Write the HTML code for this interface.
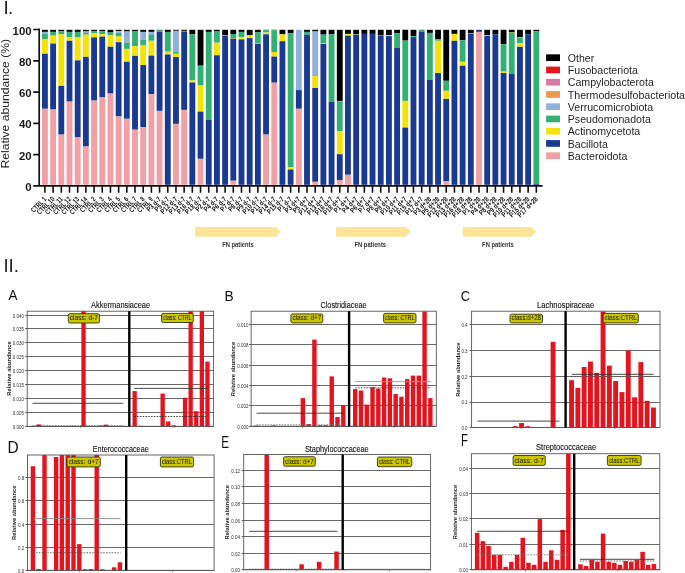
<!DOCTYPE html>
<html><head><meta charset="utf-8"><title>Figure</title>
<style>
html,body{margin:0;padding:0;background:#fff;}
body{width:685px;height:573px;overflow:hidden;}
svg{display:block;font-family:"Liberation Sans", sans-serif;will-change:transform;}
</style></head>
<body>
<svg width="685" height="573" viewBox="0 0 685 573">
<rect width="685" height="573" fill="#fff"/>
<text x="3.6" y="13.7" font-size="18.8" letter-spacing="-0.8" fill="#1a1a1a">I.</text>
<rect x="42" y="29.8" width="5.85" height="2.1" fill="#000000"/>
<rect x="42" y="31.9" width="5.85" height="2" fill="#8FB0DC"/>
<rect x="42" y="33.9" width="5.85" height="5.5" fill="#35B074"/>
<rect x="42" y="39.4" width="5.85" height="14.4" fill="#F2E205"/>
<rect x="42" y="53.8" width="5.85" height="55" fill="#1A3A92"/>
<rect x="42" y="108.8" width="5.85" height="76" fill="#F1A0A6"/>
<rect x="50.19" y="29.8" width="5.85" height="2.1" fill="#000000"/>
<rect x="50.19" y="31.9" width="5.85" height="3.8" fill="#35B074"/>
<rect x="50.19" y="35.7" width="5.85" height="7.9" fill="#F2E205"/>
<rect x="50.19" y="43.6" width="5.85" height="65.9" fill="#1A3A92"/>
<rect x="50.19" y="109.5" width="5.85" height="75.3" fill="#F1A0A6"/>
<rect x="58.38" y="29.8" width="5.85" height="1.3" fill="#000000"/>
<rect x="58.38" y="31.1" width="5.85" height="3.2" fill="#35B074"/>
<rect x="58.38" y="34.3" width="5.85" height="51.6" fill="#F2E205"/>
<rect x="58.38" y="85.9" width="5.85" height="48.7" fill="#1A3A92"/>
<rect x="58.38" y="134.6" width="5.85" height="50.2" fill="#F1A0A6"/>
<rect x="66.57" y="29.8" width="5.85" height="2.1" fill="#000000"/>
<rect x="66.57" y="31.9" width="5.85" height="5.2" fill="#35B074"/>
<rect x="66.57" y="37.1" width="5.85" height="3.7" fill="#F2E205"/>
<rect x="66.57" y="40.8" width="5.85" height="60.8" fill="#1A3A92"/>
<rect x="66.57" y="101.6" width="5.85" height="83.2" fill="#F1A0A6"/>
<rect x="74.76" y="29.8" width="5.85" height="2.1" fill="#000000"/>
<rect x="74.76" y="31.9" width="5.85" height="5.6" fill="#35B074"/>
<rect x="74.76" y="37.5" width="5.85" height="22.9" fill="#F2E205"/>
<rect x="74.76" y="60.4" width="5.85" height="76.6" fill="#1A3A92"/>
<rect x="74.76" y="137" width="5.85" height="47.8" fill="#F1A0A6"/>
<rect x="82.95" y="29.8" width="5.85" height="1.7" fill="#000000"/>
<rect x="82.95" y="31.5" width="5.85" height="1.4" fill="#8FB0DC"/>
<rect x="82.95" y="32.9" width="5.85" height="1.8" fill="#35B074"/>
<rect x="82.95" y="34.7" width="5.85" height="22.2" fill="#F2E205"/>
<rect x="82.95" y="56.9" width="5.85" height="89.6" fill="#1A3A92"/>
<rect x="82.95" y="146.5" width="5.85" height="38.3" fill="#F1A0A6"/>
<rect x="91.14" y="29.8" width="5.85" height="1.3" fill="#000000"/>
<rect x="91.14" y="31.1" width="5.85" height="2.2" fill="#35B074"/>
<rect x="91.14" y="33.3" width="5.85" height="4.1" fill="#F2E205"/>
<rect x="91.14" y="37.4" width="5.85" height="63.2" fill="#1A3A92"/>
<rect x="91.14" y="100.6" width="5.85" height="84.2" fill="#F1A0A6"/>
<rect x="99.33" y="29.8" width="5.85" height="1.3" fill="#000000"/>
<rect x="99.33" y="31.1" width="5.85" height="3.2" fill="#35B074"/>
<rect x="99.33" y="34.3" width="5.85" height="2.4" fill="#F2E205"/>
<rect x="99.33" y="36.7" width="5.85" height="60.7" fill="#1A3A92"/>
<rect x="99.33" y="97.4" width="5.85" height="87.4" fill="#F1A0A6"/>
<rect x="107.52" y="29.8" width="5.85" height="2.7" fill="#000000"/>
<rect x="107.52" y="32.5" width="5.85" height="2.8" fill="#35B074"/>
<rect x="107.52" y="35.3" width="5.85" height="11.5" fill="#F2E205"/>
<rect x="107.52" y="46.8" width="5.85" height="46.8" fill="#1A3A92"/>
<rect x="107.52" y="93.6" width="5.85" height="91.2" fill="#F1A0A6"/>
<rect x="115.71" y="29.8" width="5.85" height="1.3" fill="#000000"/>
<rect x="115.71" y="31.1" width="5.85" height="1.8" fill="#8FB0DC"/>
<rect x="115.71" y="32.9" width="5.85" height="3.5" fill="#35B074"/>
<rect x="115.71" y="36.4" width="5.85" height="5.8" fill="#F2E205"/>
<rect x="115.71" y="42.2" width="5.85" height="74.3" fill="#1A3A92"/>
<rect x="115.71" y="116.5" width="5.85" height="68.3" fill="#F1A0A6"/>
<rect x="123.9" y="29.8" width="5.85" height="1.7" fill="#000000"/>
<rect x="123.9" y="31.5" width="5.85" height="11.2" fill="#8FB0DC"/>
<rect x="123.9" y="42.7" width="5.85" height="6.2" fill="#35B074"/>
<rect x="123.9" y="48.9" width="5.85" height="12.9" fill="#F2E205"/>
<rect x="123.9" y="61.8" width="5.85" height="57" fill="#1A3A92"/>
<rect x="123.9" y="118.8" width="5.85" height="66" fill="#F1A0A6"/>
<rect x="132.09" y="29.8" width="5.85" height="1.7" fill="#000000"/>
<rect x="132.09" y="31.5" width="5.85" height="14.7" fill="#35B074"/>
<rect x="132.09" y="46.2" width="5.85" height="9.7" fill="#F2E205"/>
<rect x="132.09" y="55.9" width="5.85" height="73.8" fill="#1A3A92"/>
<rect x="132.09" y="129.7" width="5.85" height="55.1" fill="#F1A0A6"/>
<rect x="140.28" y="29.8" width="5.85" height="2.1" fill="#000000"/>
<rect x="140.28" y="31.9" width="5.85" height="8" fill="#8FB0DC"/>
<rect x="140.28" y="39.9" width="5.85" height="5.6" fill="#35B074"/>
<rect x="140.28" y="45.5" width="5.85" height="19.5" fill="#F2E205"/>
<rect x="140.28" y="65" width="5.85" height="62.2" fill="#1A3A92"/>
<rect x="140.28" y="127.2" width="5.85" height="57.6" fill="#F1A0A6"/>
<rect x="148.47" y="29.8" width="5.85" height="2.1" fill="#000000"/>
<rect x="148.47" y="31.9" width="5.85" height="3.1" fill="#8FB0DC"/>
<rect x="148.47" y="35" width="5.85" height="5.8" fill="#35B074"/>
<rect x="148.47" y="40.8" width="5.85" height="14.8" fill="#F2E205"/>
<rect x="148.47" y="55.6" width="5.85" height="38.7" fill="#1A3A92"/>
<rect x="148.47" y="94.3" width="5.85" height="90.5" fill="#F1A0A6"/>
<rect x="156.66" y="29.8" width="5.85" height="0.7" fill="#000000"/>
<rect x="156.66" y="30.5" width="5.85" height="1.4" fill="#35B074"/>
<rect x="156.66" y="31.9" width="5.85" height="79" fill="#1A3A92"/>
<rect x="156.66" y="110.9" width="5.85" height="73.9" fill="#F1A0A6"/>
<rect x="164.85" y="29.8" width="5.85" height="2.1" fill="#000000"/>
<rect x="164.85" y="31.9" width="5.85" height="19.8" fill="#35B074"/>
<rect x="164.85" y="51.7" width="5.85" height="2.8" fill="#F2E205"/>
<rect x="164.85" y="54.5" width="5.85" height="130.3" fill="#1A3A92"/>
<rect x="173.04" y="29.8" width="5.85" height="1" fill="#000000"/>
<rect x="173.04" y="30.8" width="5.85" height="20.9" fill="#8FB0DC"/>
<rect x="173.04" y="51.7" width="5.85" height="2.1" fill="#35B074"/>
<rect x="173.04" y="53.8" width="5.85" height="3.2" fill="#F2E205"/>
<rect x="173.04" y="57" width="5.85" height="66.9" fill="#1A3A92"/>
<rect x="173.04" y="123.9" width="5.85" height="60.9" fill="#F1A0A6"/>
<rect x="181.23" y="29.8" width="5.85" height="1.1" fill="#000000"/>
<rect x="181.23" y="30.9" width="5.85" height="0.5" fill="#F2E205"/>
<rect x="181.23" y="31.4" width="5.85" height="78.5" fill="#1A3A92"/>
<rect x="181.23" y="109.9" width="5.85" height="74.9" fill="#F1A0A6"/>
<rect x="189.42" y="29.8" width="5.85" height="4.5" fill="#000000"/>
<rect x="189.42" y="34.3" width="5.85" height="46.1" fill="#35B074"/>
<rect x="189.42" y="80.4" width="5.85" height="2.1" fill="#F2E205"/>
<rect x="189.42" y="82.5" width="5.85" height="102.3" fill="#1A3A92"/>
<rect x="197.61" y="29.8" width="5.85" height="35.8" fill="#000000"/>
<rect x="197.61" y="65.6" width="5.85" height="0.5" fill="#E3171E"/>
<rect x="197.61" y="66.1" width="5.85" height="19.4" fill="#35B074"/>
<rect x="197.61" y="85.5" width="5.85" height="26.1" fill="#F2E205"/>
<rect x="197.61" y="111.6" width="5.85" height="47.2" fill="#1A3A92"/>
<rect x="197.61" y="158.8" width="5.85" height="26" fill="#F1A0A6"/>
<rect x="205.8" y="29.8" width="5.85" height="2.1" fill="#000000"/>
<rect x="205.8" y="31.9" width="5.85" height="88.1" fill="#35B074"/>
<rect x="205.8" y="120" width="5.85" height="64.8" fill="#1A3A92"/>
<rect x="213.99" y="29.8" width="5.85" height="1.7" fill="#000000"/>
<rect x="213.99" y="31.5" width="5.85" height="11.2" fill="#35B074"/>
<rect x="213.99" y="42.7" width="5.85" height="12.5" fill="#F2E205"/>
<rect x="213.99" y="55.2" width="5.85" height="129.6" fill="#1A3A92"/>
<rect x="222.18" y="29.8" width="5.85" height="5.5" fill="#000000"/>
<rect x="222.18" y="35.3" width="5.85" height="0.4" fill="#F2E205"/>
<rect x="222.18" y="35.7" width="5.85" height="149.1" fill="#1A3A92"/>
<rect x="230.37" y="29.8" width="5.85" height="4.2" fill="#000000"/>
<rect x="230.37" y="34" width="5.85" height="4.4" fill="#35B074"/>
<rect x="230.37" y="38.4" width="5.85" height="0.3" fill="#F2E205"/>
<rect x="230.37" y="38.7" width="5.85" height="142" fill="#1A3A92"/>
<rect x="230.37" y="180.7" width="5.85" height="4.1" fill="#F1A0A6"/>
<rect x="238.56" y="29.8" width="5.85" height="2.1" fill="#000000"/>
<rect x="238.56" y="31.9" width="5.85" height="5.2" fill="#35B074"/>
<rect x="238.56" y="37.1" width="5.85" height="2.3" fill="#F2E205"/>
<rect x="238.56" y="39.4" width="5.85" height="145.4" fill="#1A3A92"/>
<rect x="246.75" y="29.8" width="5.85" height="5.5" fill="#000000"/>
<rect x="246.75" y="35.3" width="5.85" height="2.8" fill="#F2E205"/>
<rect x="246.75" y="38.1" width="5.85" height="146.7" fill="#1A3A92"/>
<rect x="254.94" y="29.8" width="5.85" height="2.4" fill="#000000"/>
<rect x="254.94" y="32.2" width="5.85" height="11.5" fill="#35B074"/>
<rect x="254.94" y="43.7" width="5.85" height="0.3" fill="#F2E205"/>
<rect x="254.94" y="44" width="5.85" height="140.8" fill="#1A3A92"/>
<rect x="263.13" y="29.8" width="5.85" height="0.3" fill="#000000"/>
<rect x="263.13" y="30.1" width="5.85" height="2.4" fill="#35B074"/>
<rect x="263.13" y="32.5" width="5.85" height="1.8" fill="#F2E205"/>
<rect x="263.13" y="34.3" width="5.85" height="100.3" fill="#1A3A92"/>
<rect x="263.13" y="134.6" width="5.85" height="50.2" fill="#F1A0A6"/>
<rect x="271.32" y="29.8" width="5.85" height="0.3" fill="#000000"/>
<rect x="271.32" y="30.1" width="5.85" height="21.9" fill="#35B074"/>
<rect x="271.32" y="52" width="5.85" height="4.6" fill="#F2E205"/>
<rect x="271.32" y="56.6" width="5.85" height="26.1" fill="#1A3A92"/>
<rect x="271.32" y="82.7" width="5.85" height="102.1" fill="#F1A0A6"/>
<rect x="279.51" y="29.8" width="5.85" height="4.5" fill="#000000"/>
<rect x="279.51" y="34.3" width="5.85" height="6.9" fill="#F2E205"/>
<rect x="279.51" y="41.2" width="5.85" height="143.6" fill="#1A3A92"/>
<rect x="287.7" y="29.8" width="5.85" height="3.5" fill="#000000"/>
<rect x="287.7" y="33.3" width="5.85" height="133.7" fill="#35B074"/>
<rect x="287.7" y="167" width="5.85" height="2.5" fill="#F2E205"/>
<rect x="287.7" y="169.5" width="5.85" height="15.3" fill="#1A3A92"/>
<rect x="295.89" y="29.8" width="5.85" height="59.6" fill="#8FB0DC"/>
<rect x="295.89" y="89.4" width="5.85" height="0.7" fill="#35B074"/>
<rect x="295.89" y="90.1" width="5.85" height="18.7" fill="#1A3A92"/>
<rect x="295.89" y="108.8" width="5.85" height="76" fill="#F1A0A6"/>
<rect x="304.08" y="29.8" width="5.85" height="2.1" fill="#000000"/>
<rect x="304.08" y="31.9" width="5.85" height="2.8" fill="#35B074"/>
<rect x="304.08" y="34.7" width="5.85" height="150.1" fill="#1A3A92"/>
<rect x="312.27" y="29.8" width="5.85" height="1.7" fill="#000000"/>
<rect x="312.27" y="31.5" width="5.85" height="44" fill="#8FB0DC"/>
<rect x="312.27" y="75.5" width="5.85" height="0.7" fill="#35B074"/>
<rect x="312.27" y="76.2" width="5.85" height="11.8" fill="#F2E205"/>
<rect x="312.27" y="88" width="5.85" height="93.8" fill="#1A3A92"/>
<rect x="312.27" y="181.8" width="5.85" height="3" fill="#F1A0A6"/>
<rect x="320.46" y="29.8" width="5.85" height="4.8" fill="#000000"/>
<rect x="320.46" y="34.6" width="5.85" height="9" fill="#35B074"/>
<rect x="320.46" y="43.6" width="5.85" height="0.4" fill="#F2E205"/>
<rect x="320.46" y="44" width="5.85" height="140.8" fill="#1A3A92"/>
<rect x="328.65" y="29.8" width="5.85" height="4.5" fill="#000000"/>
<rect x="328.65" y="34.3" width="5.85" height="67.7" fill="#35B074"/>
<rect x="328.65" y="102" width="5.85" height="82.8" fill="#1A3A92"/>
<rect x="336.84" y="29.8" width="5.85" height="71.1" fill="#000000"/>
<rect x="336.84" y="100.9" width="5.85" height="0.5" fill="#E3171E"/>
<rect x="336.84" y="101.4" width="5.85" height="29.7" fill="#35B074"/>
<rect x="336.84" y="131.1" width="5.85" height="23.1" fill="#F2E205"/>
<rect x="336.84" y="154.2" width="5.85" height="25.8" fill="#1A3A92"/>
<rect x="336.84" y="180" width="5.85" height="4.8" fill="#F1A0A6"/>
<rect x="345.03" y="29.8" width="5.85" height="4.1" fill="#000000"/>
<rect x="345.03" y="33.9" width="5.85" height="1.8" fill="#F2E205"/>
<rect x="345.03" y="35.7" width="5.85" height="139.1" fill="#1A3A92"/>
<rect x="345.03" y="174.8" width="5.85" height="10" fill="#F1A0A6"/>
<rect x="353.22" y="29.8" width="5.85" height="4.5" fill="#000000"/>
<rect x="353.22" y="34.3" width="5.85" height="0.4" fill="#F2E205"/>
<rect x="353.22" y="34.7" width="5.85" height="150.1" fill="#1A3A92"/>
<rect x="361.41" y="29.8" width="5.85" height="4.1" fill="#000000"/>
<rect x="361.41" y="33.9" width="5.85" height="150.9" fill="#1A3A92"/>
<rect x="369.6" y="29.8" width="5.85" height="4.1" fill="#000000"/>
<rect x="369.6" y="33.9" width="5.85" height="150.9" fill="#1A3A92"/>
<rect x="377.79" y="29.8" width="5.85" height="5.2" fill="#000000"/>
<rect x="377.79" y="35" width="5.85" height="0.3" fill="#F2E205"/>
<rect x="377.79" y="35.3" width="5.85" height="149.5" fill="#1A3A92"/>
<rect x="385.98" y="29.8" width="5.85" height="5.2" fill="#000000"/>
<rect x="385.98" y="35" width="5.85" height="1.1" fill="#F2E205"/>
<rect x="385.98" y="36.1" width="5.85" height="148.7" fill="#1A3A92"/>
<rect x="394.17" y="29.8" width="5.85" height="3.5" fill="#000000"/>
<rect x="394.17" y="33.3" width="5.85" height="14.5" fill="#35B074"/>
<rect x="394.17" y="47.8" width="5.85" height="137" fill="#1A3A92"/>
<rect x="402.36" y="29.8" width="5.85" height="10.8" fill="#000000"/>
<rect x="402.36" y="40.6" width="5.85" height="60.3" fill="#35B074"/>
<rect x="402.36" y="100.9" width="5.85" height="26.7" fill="#F2E205"/>
<rect x="402.36" y="127.6" width="5.85" height="57.2" fill="#1A3A92"/>
<rect x="410.55" y="29.8" width="5.85" height="6.3" fill="#000000"/>
<rect x="410.55" y="36.1" width="5.85" height="1" fill="#35B074"/>
<rect x="410.55" y="37.1" width="5.85" height="147.7" fill="#1A3A92"/>
<rect x="418.74" y="29.8" width="5.85" height="0.3" fill="#000000"/>
<rect x="418.74" y="30.1" width="5.85" height="1.4" fill="#35B074"/>
<rect x="418.74" y="31.5" width="5.85" height="153.3" fill="#1A3A92"/>
<rect x="426.93" y="29.8" width="5.85" height="3.1" fill="#000000"/>
<rect x="426.93" y="32.9" width="5.85" height="46.8" fill="#35B074"/>
<rect x="426.93" y="79.7" width="5.85" height="105.1" fill="#1A3A92"/>
<rect x="435.12" y="29.8" width="5.85" height="9.4" fill="#000000"/>
<rect x="435.12" y="39.2" width="5.85" height="1.6" fill="#35B074"/>
<rect x="435.12" y="40.8" width="5.85" height="32.2" fill="#F2E205"/>
<rect x="435.12" y="73" width="5.85" height="111.8" fill="#1A3A92"/>
<rect x="443.31" y="29.8" width="5.85" height="51" fill="#000000"/>
<rect x="443.31" y="80.8" width="5.85" height="10" fill="#35B074"/>
<rect x="443.31" y="90.8" width="5.85" height="8.1" fill="#F2E205"/>
<rect x="443.31" y="98.9" width="5.85" height="82.1" fill="#1A3A92"/>
<rect x="443.31" y="181" width="5.85" height="3.8" fill="#F1A0A6"/>
<rect x="451.5" y="29.8" width="5.85" height="4.1" fill="#000000"/>
<rect x="451.5" y="33.9" width="5.85" height="6.9" fill="#F2E205"/>
<rect x="451.5" y="40.8" width="5.85" height="144" fill="#1A3A92"/>
<rect x="459.69" y="29.8" width="5.85" height="10.5" fill="#000000"/>
<rect x="459.69" y="40.3" width="5.85" height="21.5" fill="#35B074"/>
<rect x="459.69" y="61.8" width="5.85" height="3.9" fill="#F2E205"/>
<rect x="459.69" y="65.7" width="5.85" height="119.1" fill="#1A3A92"/>
<rect x="467.88" y="29.8" width="5.85" height="3.2" fill="#000000"/>
<rect x="467.88" y="33" width="5.85" height="0.5" fill="#F2E205"/>
<rect x="467.88" y="33.5" width="5.85" height="151.3" fill="#1A3A92"/>
<rect x="476.07" y="29.8" width="5.85" height="2.1" fill="#1A3A92"/>
<rect x="476.07" y="31.9" width="5.85" height="152.9" fill="#F1A0A6"/>
<rect x="484.26" y="29.8" width="5.85" height="5.6" fill="#000000"/>
<rect x="484.26" y="35.4" width="5.85" height="0.6" fill="#F2E205"/>
<rect x="484.26" y="36" width="5.85" height="148.8" fill="#1A3A92"/>
<rect x="492.45" y="29.8" width="5.85" height="4.6" fill="#000000"/>
<rect x="492.45" y="34.4" width="5.85" height="150.4" fill="#1A3A92"/>
<rect x="500.64" y="29.8" width="5.85" height="14.3" fill="#000000"/>
<rect x="500.64" y="44.1" width="5.85" height="27.5" fill="#35B074"/>
<rect x="500.64" y="71.6" width="5.85" height="1.4" fill="#F2E205"/>
<rect x="500.64" y="73" width="5.85" height="111.8" fill="#1A3A92"/>
<rect x="508.83" y="29.8" width="5.85" height="2.6" fill="#000000"/>
<rect x="508.83" y="32.4" width="5.85" height="0.3" fill="#F2E205"/>
<rect x="508.83" y="32.7" width="5.85" height="41.1" fill="#35B074"/>
<rect x="508.83" y="73.8" width="5.85" height="111" fill="#1A3A92"/>
<rect x="517.02" y="29.8" width="5.85" height="7.3" fill="#000000"/>
<rect x="517.02" y="37.1" width="5.85" height="0.7" fill="#F0954A"/>
<rect x="517.02" y="37.8" width="5.85" height="5.3" fill="#35B074"/>
<rect x="517.02" y="43.1" width="5.85" height="3.7" fill="#F2E205"/>
<rect x="517.02" y="46.8" width="5.85" height="138" fill="#1A3A92"/>
<rect x="525.21" y="29.8" width="5.85" height="4.4" fill="#000000"/>
<rect x="525.21" y="34.2" width="5.85" height="150.6" fill="#1A3A92"/>
<rect x="533.4" y="29.8" width="5.85" height="1.3" fill="#000000"/>
<rect x="533.4" y="31.1" width="5.85" height="152.9" fill="#35B074"/>
<rect x="533.4" y="184" width="5.85" height="0.8" fill="#1A3A92"/>
<path d="M39.2 28.6 V186.6 M33.2 29.5 H39.2 M33.2 60.78 H39.2 M33.2 92.06 H39.2 M33.2 123.34 H39.2 M33.2 154.62 H39.2 M33.2 185.9 H39.2 M38.4 185.9 H542.6" stroke="#111" stroke-width="1.7" fill="none"/>
<path d="M44.92 185.9 V192.7 M53.11 185.9 V192.7 M61.3 185.9 V192.7 M69.5 185.9 V192.7 M77.69 185.9 V192.7 M85.88 185.9 V192.7 M94.06 185.9 V192.7 M102.25 185.9 V192.7 M110.44 185.9 V192.7 M118.63 185.9 V192.7 M126.82 185.9 V192.7 M135.01 185.9 V192.7 M143.2 185.9 V192.7 M151.39 185.9 V192.7 M159.58 185.9 V192.7 M167.77 185.9 V192.7 M175.96 185.9 V192.7 M184.15 185.9 V192.7 M192.34 185.9 V192.7 M200.53 185.9 V192.7 M208.72 185.9 V192.7 M216.91 185.9 V192.7 M225.1 185.9 V192.7 M233.29 185.9 V192.7 M241.49 185.9 V192.7 M249.68 185.9 V192.7 M257.87 185.9 V192.7 M266.06 185.9 V192.7 M274.25 185.9 V192.7 M282.44 185.9 V192.7 M290.62 185.9 V192.7 M298.81 185.9 V192.7 M307 185.9 V192.7 M315.19 185.9 V192.7 M323.38 185.9 V192.7 M331.57 185.9 V192.7 M339.76 185.9 V192.7 M347.95 185.9 V192.7 M356.14 185.9 V192.7 M364.33 185.9 V192.7 M372.52 185.9 V192.7 M380.71 185.9 V192.7 M388.9 185.9 V192.7 M397.09 185.9 V192.7 M405.28 185.9 V192.7 M413.47 185.9 V192.7 M421.66 185.9 V192.7 M429.85 185.9 V192.7 M438.05 185.9 V192.7 M446.24 185.9 V192.7 M454.43 185.9 V192.7 M462.62 185.9 V192.7 M470.81 185.9 V192.7 M479 185.9 V192.7 M487.19 185.9 V192.7 M495.38 185.9 V192.7 M503.56 185.9 V192.7 M511.75 185.9 V192.7 M519.94 185.9 V192.7 M528.13 185.9 V192.7 M536.32 185.9 V192.7" stroke="#111" stroke-width="1.6" fill="none"/>
<text x="31.6" y="34.5" font-size="11.4" font-weight="bold" text-anchor="end" fill="#1a1a1a">100</text>
<text x="31.6" y="65.78" font-size="11.4" font-weight="bold" text-anchor="end" fill="#1a1a1a">80</text>
<text x="31.6" y="97.06" font-size="11.4" font-weight="bold" text-anchor="end" fill="#1a1a1a">60</text>
<text x="31.6" y="128.34" font-size="11.4" font-weight="bold" text-anchor="end" fill="#1a1a1a">40</text>
<text x="31.6" y="159.62" font-size="11.4" font-weight="bold" text-anchor="end" fill="#1a1a1a">20</text>
<text x="31.6" y="190.9" font-size="11.4" font-weight="bold" text-anchor="end" fill="#1a1a1a">0</text>
<text transform="translate(9.1 103.7) rotate(-90)" font-size="11.4" text-anchor="middle" fill="#222" textLength="129.6" lengthAdjust="spacingAndGlyphs">Relative abundance (%)</text>
<text transform="translate(46.92 199.7) rotate(-45) scale(0.74 1)" font-size="7.3" font-weight="bold" text-anchor="end" fill="#111">CTRL 1</text>
<text transform="translate(55.11 199.7) rotate(-45) scale(0.74 1)" font-size="7.3" font-weight="bold" text-anchor="end" fill="#111">CTRL 10</text>
<text transform="translate(63.3 199.7) rotate(-45) scale(0.74 1)" font-size="7.3" font-weight="bold" text-anchor="end" fill="#111">CTRL 11</text>
<text transform="translate(71.5 199.7) rotate(-45) scale(0.74 1)" font-size="7.3" font-weight="bold" text-anchor="end" fill="#111">CTRL 12</text>
<text transform="translate(79.69 199.7) rotate(-45) scale(0.74 1)" font-size="7.3" font-weight="bold" text-anchor="end" fill="#111">CTRL 13</text>
<text transform="translate(87.88 199.7) rotate(-45) scale(0.74 1)" font-size="7.3" font-weight="bold" text-anchor="end" fill="#111">CTRL 14</text>
<text transform="translate(96.06 199.7) rotate(-45) scale(0.74 1)" font-size="7.3" font-weight="bold" text-anchor="end" fill="#111">CTRL 2</text>
<text transform="translate(104.25 199.7) rotate(-45) scale(0.74 1)" font-size="7.3" font-weight="bold" text-anchor="end" fill="#111">CTRL 3</text>
<text transform="translate(112.44 199.7) rotate(-45) scale(0.74 1)" font-size="7.3" font-weight="bold" text-anchor="end" fill="#111">CTRL 4</text>
<text transform="translate(120.63 199.7) rotate(-45) scale(0.74 1)" font-size="7.3" font-weight="bold" text-anchor="end" fill="#111">CTRL 5</text>
<text transform="translate(128.82 199.7) rotate(-45) scale(0.74 1)" font-size="7.3" font-weight="bold" text-anchor="end" fill="#111">CTRL 6</text>
<text transform="translate(137.01 199.7) rotate(-45) scale(0.74 1)" font-size="7.3" font-weight="bold" text-anchor="end" fill="#111">CTRL 7</text>
<text transform="translate(145.2 199.7) rotate(-45) scale(0.74 1)" font-size="7.3" font-weight="bold" text-anchor="end" fill="#111">CTRL 8</text>
<text transform="translate(153.39 199.7) rotate(-45) scale(0.74 1)" font-size="7.3" font-weight="bold" text-anchor="end" fill="#111">CTRL 9</text>
<text transform="translate(161.58 199.7) rotate(-45) scale(0.8 1)" font-size="7.3" font-weight="bold" text-anchor="end" fill="#111">P3 d-7</text>
<text transform="translate(169.77 199.7) rotate(-45) scale(0.8 1)" font-size="7.3" font-weight="bold" text-anchor="end" fill="#111">P5 d-7</text>
<text transform="translate(177.96 199.7) rotate(-45) scale(0.8 1)" font-size="7.3" font-weight="bold" text-anchor="end" fill="#111">P12 d-7</text>
<text transform="translate(186.15 199.7) rotate(-45) scale(0.8 1)" font-size="7.3" font-weight="bold" text-anchor="end" fill="#111">P13 d-7</text>
<text transform="translate(194.34 199.7) rotate(-45) scale(0.8 1)" font-size="7.3" font-weight="bold" text-anchor="end" fill="#111">P16 d-7</text>
<text transform="translate(202.53 199.7) rotate(-45) scale(0.8 1)" font-size="7.3" font-weight="bold" text-anchor="end" fill="#111">P18 d-7</text>
<text transform="translate(210.72 199.7) rotate(-45) scale(0.8 1)" font-size="7.3" font-weight="bold" text-anchor="end" fill="#111">P2 d-7</text>
<text transform="translate(218.91 199.7) rotate(-45) scale(0.8 1)" font-size="7.3" font-weight="bold" text-anchor="end" fill="#111">P4 d-7</text>
<text transform="translate(227.1 199.7) rotate(-45) scale(0.8 1)" font-size="7.3" font-weight="bold" text-anchor="end" fill="#111">P6 d-7</text>
<text transform="translate(235.29 199.7) rotate(-45) scale(0.8 1)" font-size="7.3" font-weight="bold" text-anchor="end" fill="#111">P7 d-7</text>
<text transform="translate(243.49 199.7) rotate(-45) scale(0.8 1)" font-size="7.3" font-weight="bold" text-anchor="end" fill="#111">P8 d-7</text>
<text transform="translate(251.68 199.7) rotate(-45) scale(0.8 1)" font-size="7.3" font-weight="bold" text-anchor="end" fill="#111">P9 d-7</text>
<text transform="translate(259.87 199.7) rotate(-45) scale(0.8 1)" font-size="7.3" font-weight="bold" text-anchor="end" fill="#111">P10 d-7</text>
<text transform="translate(268.06 199.7) rotate(-45) scale(0.8 1)" font-size="7.3" font-weight="bold" text-anchor="end" fill="#111">P11 d-7</text>
<text transform="translate(276.25 199.7) rotate(-45) scale(0.8 1)" font-size="7.3" font-weight="bold" text-anchor="end" fill="#111">P14 d-7</text>
<text transform="translate(284.44 199.7) rotate(-45) scale(0.8 1)" font-size="7.3" font-weight="bold" text-anchor="end" fill="#111">P15 d-7</text>
<text transform="translate(292.62 199.7) rotate(-45) scale(0.8 1)" font-size="7.3" font-weight="bold" text-anchor="end" fill="#111">P1 d-7</text>
<text transform="translate(300.81 199.7) rotate(-45) scale(0.8 1)" font-size="7.3" font-weight="bold" text-anchor="end" fill="#111">P3 d+7</text>
<text transform="translate(309 199.7) rotate(-45) scale(0.8 1)" font-size="7.3" font-weight="bold" text-anchor="end" fill="#111">P5 d+7</text>
<text transform="translate(317.19 199.7) rotate(-45) scale(0.8 1)" font-size="7.3" font-weight="bold" text-anchor="end" fill="#111">P12 d+7</text>
<text transform="translate(325.38 199.7) rotate(-45) scale(0.8 1)" font-size="7.3" font-weight="bold" text-anchor="end" fill="#111">P13 d+7</text>
<text transform="translate(333.57 199.7) rotate(-45) scale(0.8 1)" font-size="7.3" font-weight="bold" text-anchor="end" fill="#111">P16 d+7</text>
<text transform="translate(341.76 199.7) rotate(-45) scale(0.8 1)" font-size="7.3" font-weight="bold" text-anchor="end" fill="#111">P18 d+7</text>
<text transform="translate(349.95 199.7) rotate(-45) scale(0.8 1)" font-size="7.3" font-weight="bold" text-anchor="end" fill="#111">P1 d+7</text>
<text transform="translate(358.14 199.7) rotate(-45) scale(0.8 1)" font-size="7.3" font-weight="bold" text-anchor="end" fill="#111">P4 d+7</text>
<text transform="translate(366.33 199.7) rotate(-45) scale(0.8 1)" font-size="7.3" font-weight="bold" text-anchor="end" fill="#111">P6 d+7</text>
<text transform="translate(374.52 199.7) rotate(-45) scale(0.8 1)" font-size="7.3" font-weight="bold" text-anchor="end" fill="#111">P7 d+7</text>
<text transform="translate(382.71 199.7) rotate(-45) scale(0.8 1)" font-size="7.3" font-weight="bold" text-anchor="end" fill="#111">P8 d+7</text>
<text transform="translate(390.9 199.7) rotate(-45) scale(0.8 1)" font-size="7.3" font-weight="bold" text-anchor="end" fill="#111">P9 d+7</text>
<text transform="translate(399.09 199.7) rotate(-45) scale(0.8 1)" font-size="7.3" font-weight="bold" text-anchor="end" fill="#111">P10 d+7</text>
<text transform="translate(407.28 199.7) rotate(-45) scale(0.8 1)" font-size="7.3" font-weight="bold" text-anchor="end" fill="#111">P11 d+7</text>
<text transform="translate(415.47 199.7) rotate(-45) scale(0.8 1)" font-size="7.3" font-weight="bold" text-anchor="end" fill="#111">P15 d+7</text>
<text transform="translate(423.66 199.7) rotate(-45) scale(0.8 1)" font-size="7.3" font-weight="bold" text-anchor="end" fill="#111">P17 d+7</text>
<text transform="translate(431.85 199.7) rotate(-45) scale(0.8 1)" font-size="7.3" font-weight="bold" text-anchor="end" fill="#111">P3 d+28</text>
<text transform="translate(440.05 199.7) rotate(-45) scale(0.8 1)" font-size="7.3" font-weight="bold" text-anchor="end" fill="#111">P5 d+28</text>
<text transform="translate(448.24 199.7) rotate(-45) scale(0.8 1)" font-size="7.3" font-weight="bold" text-anchor="end" fill="#111">P12 d+28</text>
<text transform="translate(456.43 199.7) rotate(-45) scale(0.8 1)" font-size="7.3" font-weight="bold" text-anchor="end" fill="#111">P13 d+28</text>
<text transform="translate(464.62 199.7) rotate(-45) scale(0.8 1)" font-size="7.3" font-weight="bold" text-anchor="end" fill="#111">P16 d+28</text>
<text transform="translate(472.81 199.7) rotate(-45) scale(0.8 1)" font-size="7.3" font-weight="bold" text-anchor="end" fill="#111">P18 d+28</text>
<text transform="translate(481 199.7) rotate(-45) scale(0.8 1)" font-size="7.3" font-weight="bold" text-anchor="end" fill="#111">P1 d+28</text>
<text transform="translate(489.19 199.7) rotate(-45) scale(0.8 1)" font-size="7.3" font-weight="bold" text-anchor="end" fill="#111">P4 d+28</text>
<text transform="translate(497.38 199.7) rotate(-45) scale(0.8 1)" font-size="7.3" font-weight="bold" text-anchor="end" fill="#111">P8 d+28</text>
<text transform="translate(505.56 199.7) rotate(-45) scale(0.8 1)" font-size="7.3" font-weight="bold" text-anchor="end" fill="#111">P9 d+28</text>
<text transform="translate(513.75 199.7) rotate(-45) scale(0.8 1)" font-size="7.3" font-weight="bold" text-anchor="end" fill="#111">P10 d+28</text>
<text transform="translate(521.94 199.7) rotate(-45) scale(0.8 1)" font-size="7.3" font-weight="bold" text-anchor="end" fill="#111">P11 d+28</text>
<text transform="translate(530.13 199.7) rotate(-45) scale(0.8 1)" font-size="7.3" font-weight="bold" text-anchor="end" fill="#111">P15 d+28</text>
<text transform="translate(538.32 199.7) rotate(-45) scale(0.8 1)" font-size="7.3" font-weight="bold" text-anchor="end" fill="#111">P17 d+28</text>
<rect x="546.1" y="54.35" width="13.9" height="6.7" fill="#000000"/>
<text x="567.8" y="61.75" font-size="10.6" fill="#262626">Other</text>
<rect x="546.1" y="66.6" width="13.9" height="6.7" fill="#E3171E"/>
<text x="567.8" y="74" font-size="10.6" fill="#262626">Fusobacteriota</text>
<rect x="546.1" y="78.85" width="13.9" height="6.7" fill="#D77CA0"/>
<text x="567.8" y="86.25" font-size="10.6" fill="#262626">Campylobacterota</text>
<rect x="546.1" y="91.1" width="13.9" height="6.7" fill="#F0954A"/>
<text x="567.8" y="98.5" font-size="10.6" fill="#262626">Thermodesulfobacteriota</text>
<rect x="546.1" y="103.35" width="13.9" height="6.7" fill="#8FB0DC"/>
<text x="567.8" y="110.75" font-size="10.6" fill="#262626">Verrucomicrobiota</text>
<rect x="546.1" y="115.6" width="13.9" height="6.7" fill="#35B074"/>
<text x="567.8" y="123" font-size="10.6" fill="#262626">Pseudomonadota</text>
<rect x="546.1" y="127.85" width="13.9" height="6.7" fill="#F2E205"/>
<text x="567.8" y="135.25" font-size="10.6" fill="#262626">Actinomycetota</text>
<rect x="546.1" y="140.1" width="13.9" height="6.7" fill="#1A3A92"/>
<text x="567.8" y="147.5" font-size="10.6" fill="#262626">Bacillota</text>
<rect x="546.1" y="152.35" width="13.9" height="6.7" fill="#F1A0A6"/>
<text x="567.8" y="159.75" font-size="10.6" fill="#262626">Bacteroidota</text>
<path d="M195.0 226.9 H276.2 L280.3 231.8 L276.2 236.7 H195.0 Z" fill="#FDE497"/>
<text x="237.9" y="247.2" font-size="6.3" font-weight="bold" text-anchor="middle" fill="#333" transform="translate(237.9 0) scale(0.92 1) translate(-237.9 0)">FN patients</text>
<path d="M336.1 226.9 H405.8 L410.4 231.8 L405.8 236.7 H336.1 Z" fill="#FDE497"/>
<text x="370.3" y="247.2" font-size="6.3" font-weight="bold" text-anchor="middle" fill="#333" transform="translate(370.3 0) scale(0.92 1) translate(-370.3 0)">FN patients</text>
<path d="M462.7 226.9 H531.6 L536.2 231.8 L531.6 236.7 H462.7 Z" fill="#FDE497"/>
<text x="497.9" y="247.2" font-size="6.3" font-weight="bold" text-anchor="middle" fill="#333" transform="translate(497.9 0) scale(0.92 1) translate(-497.9 0)">FN patients</text>
<text x="3.4" y="271.6" font-size="18.6" fill="#1a1a1a">II.</text>
<line x1="27.2" y1="315.5" x2="213.6" y2="315.5" stroke="#686868" stroke-width="1"/>
<line x1="25.2" y1="315.5" x2="27.2" y2="315.5" stroke="#444" stroke-width="0.9"/>
<text transform="translate(23.9 317.5) scale(0.95 1)" font-size="4.7" text-anchor="end" fill="#2a2a2a">0.040</text>
<line x1="27.2" y1="328.5" x2="213.6" y2="328.5" stroke="#686868" stroke-width="1"/>
<line x1="25.2" y1="328.5" x2="27.2" y2="328.5" stroke="#444" stroke-width="0.9"/>
<text transform="translate(23.9 331.3) scale(0.95 1)" font-size="4.7" text-anchor="end" fill="#2a2a2a">0.035</text>
<line x1="27.2" y1="342.5" x2="213.6" y2="342.5" stroke="#686868" stroke-width="1"/>
<line x1="25.2" y1="342.5" x2="27.2" y2="342.5" stroke="#444" stroke-width="0.9"/>
<text transform="translate(23.9 345.2) scale(0.95 1)" font-size="4.7" text-anchor="end" fill="#2a2a2a">0.030</text>
<line x1="27.2" y1="356.5" x2="213.6" y2="356.5" stroke="#686868" stroke-width="1"/>
<line x1="25.2" y1="356.5" x2="27.2" y2="356.5" stroke="#444" stroke-width="0.9"/>
<text transform="translate(23.9 359.1) scale(0.95 1)" font-size="4.7" text-anchor="end" fill="#2a2a2a">0.025</text>
<line x1="27.2" y1="370.5" x2="213.6" y2="370.5" stroke="#686868" stroke-width="1"/>
<line x1="25.2" y1="370.5" x2="27.2" y2="370.5" stroke="#444" stroke-width="0.9"/>
<text transform="translate(23.9 373) scale(0.95 1)" font-size="4.7" text-anchor="end" fill="#2a2a2a">0.020</text>
<line x1="27.2" y1="384.5" x2="213.6" y2="384.5" stroke="#686868" stroke-width="1"/>
<line x1="25.2" y1="384.5" x2="27.2" y2="384.5" stroke="#444" stroke-width="0.9"/>
<text transform="translate(23.9 386.9) scale(0.95 1)" font-size="4.7" text-anchor="end" fill="#2a2a2a">0.015</text>
<line x1="27.2" y1="398.5" x2="213.6" y2="398.5" stroke="#686868" stroke-width="1"/>
<line x1="25.2" y1="398.5" x2="27.2" y2="398.5" stroke="#444" stroke-width="0.9"/>
<text transform="translate(23.9 400.9) scale(0.95 1)" font-size="4.7" text-anchor="end" fill="#2a2a2a">0.010</text>
<line x1="27.2" y1="412.5" x2="213.6" y2="412.5" stroke="#686868" stroke-width="1"/>
<line x1="25.2" y1="412.5" x2="27.2" y2="412.5" stroke="#444" stroke-width="0.9"/>
<text transform="translate(23.9 414.8) scale(0.95 1)" font-size="4.7" text-anchor="end" fill="#2a2a2a">0.005</text>
<line x1="27.2" y1="426.5" x2="213.6" y2="426.5" stroke="#686868" stroke-width="1"/>
<line x1="25.2" y1="426.5" x2="27.2" y2="426.5" stroke="#444" stroke-width="0.9"/>
<text transform="translate(23.9 428.7) scale(0.95 1)" font-size="4.7" text-anchor="end" fill="#2a2a2a">0.000</text>
<rect x="36.6" y="424.4" width="4.3" height="1.9" fill="#E3141E"/>
<rect x="81.4" y="311.2" width="4.3" height="115.1" fill="#E3141E"/>
<rect x="98.2" y="425.6" width="4.3" height="0.7" fill="#E3141E"/>
<rect x="103.8" y="424.6" width="4.3" height="1.7" fill="#E3141E"/>
<rect x="132.5" y="391.1" width="4.3" height="35.2" fill="#E3141E"/>
<rect x="138.1" y="425.8" width="4.3" height="0.5" fill="#E3141E"/>
<rect x="160.5" y="393.6" width="4.3" height="32.7" fill="#E3141E"/>
<rect x="166.1" y="421.4" width="4.3" height="4.9" fill="#E3141E"/>
<rect x="171.7" y="425.3" width="4.3" height="1" fill="#E3141E"/>
<rect x="182.9" y="397.7" width="4.3" height="28.6" fill="#E3141E"/>
<rect x="188.5" y="311.2" width="4.3" height="115.1" fill="#E3141E"/>
<rect x="194.1" y="411.2" width="4.3" height="15.1" fill="#E3141E"/>
<rect x="199.7" y="311.2" width="4.3" height="115.1" fill="#E3141E"/>
<rect x="205.3" y="361.6" width="4.3" height="64.7" fill="#E3141E"/>
<line x1="32.5" y1="403.3" x2="123.2" y2="403.3" stroke="#333" stroke-width="0.9"/>
<line x1="134.2" y1="388.4" x2="207.5" y2="388.4" stroke="#333" stroke-width="0.9"/>
<line x1="32.5" y1="425.9" x2="123.2" y2="425.9" stroke="#444" stroke-width="0.9" stroke-dasharray="1.6 1.2"/>
<line x1="134.2" y1="416.5" x2="206.3" y2="416.5" stroke="#333" stroke-width="0.9" stroke-dasharray="1.6 1.2"/>
<rect x="27.2" y="311.2" width="186.4" height="115.1" fill="none" stroke="#555" stroke-width="0.9"/>
<line x1="129.3" y1="311.2" x2="129.3" y2="426.3" stroke="#000" stroke-width="2.4"/>
<line x1="80.6" y1="426.3" x2="80.6" y2="427.9" stroke="#555" stroke-width="0.7"/>
<line x1="174.2" y1="426.3" x2="174.2" y2="427.9" stroke="#555" stroke-width="0.7"/>
<rect x="68.3" y="313.7" width="31.2" height="9.3" rx="1.6" fill="#CCC600" stroke="#1e1e10" stroke-width="0.8"/>
<text x="83.9" y="320.4" font-size="6.4" text-anchor="middle" fill="#111" textLength="28.2" lengthAdjust="spacingAndGlyphs">class: d-7</text>
<rect x="161.6" y="313.4" width="31.7" height="9.1" rx="1.6" fill="#CCC600" stroke="#1e1e10" stroke-width="0.8"/>
<text x="177.45" y="319.9" font-size="6.4" text-anchor="middle" fill="#111" textLength="28.7" lengthAdjust="spacingAndGlyphs">class: CTRL</text>
<text x="120.6" y="307.6" font-size="8.5" text-anchor="middle" fill="#111" stroke="#111" stroke-width="0.12" textLength="59" lengthAdjust="spacingAndGlyphs">Akkermansiaceae</text>
<text transform="translate(8.4 300.2) scale(0.87 1)" font-size="15.4" fill="#111">A</text>
<text transform="translate(11.2 368.5) rotate(-90)" font-size="5.7" font-weight="bold" text-anchor="middle" fill="#262626" textLength="54.3" lengthAdjust="spacingAndGlyphs">Relative abundance</text>
<line x1="251.1" y1="324.5" x2="436.3" y2="324.5" stroke="#686868" stroke-width="1"/>
<line x1="249.1" y1="324.5" x2="251.1" y2="324.5" stroke="#444" stroke-width="0.9"/>
<text transform="translate(248.4 326.9) scale(0.95 1)" font-size="4.7" text-anchor="end" fill="#2a2a2a">0.010</text>
<line x1="251.1" y1="344.5" x2="436.3" y2="344.5" stroke="#686868" stroke-width="1"/>
<line x1="249.1" y1="344.5" x2="251.1" y2="344.5" stroke="#444" stroke-width="0.9"/>
<text transform="translate(248.4 347.2) scale(0.95 1)" font-size="4.7" text-anchor="end" fill="#2a2a2a">0.008</text>
<line x1="251.1" y1="365.5" x2="436.3" y2="365.5" stroke="#686868" stroke-width="1"/>
<line x1="249.1" y1="365.5" x2="251.1" y2="365.5" stroke="#444" stroke-width="0.9"/>
<text transform="translate(248.4 367.5) scale(0.95 1)" font-size="4.7" text-anchor="end" fill="#2a2a2a">0.006</text>
<line x1="251.1" y1="385.5" x2="436.3" y2="385.5" stroke="#686868" stroke-width="1"/>
<line x1="249.1" y1="385.5" x2="251.1" y2="385.5" stroke="#444" stroke-width="0.9"/>
<text transform="translate(248.4 387.8) scale(0.95 1)" font-size="4.7" text-anchor="end" fill="#2a2a2a">0.004</text>
<line x1="251.1" y1="405.5" x2="436.3" y2="405.5" stroke="#686868" stroke-width="1"/>
<line x1="249.1" y1="405.5" x2="251.1" y2="405.5" stroke="#444" stroke-width="0.9"/>
<text transform="translate(248.4 408.1) scale(0.95 1)" font-size="4.7" text-anchor="end" fill="#2a2a2a">0.002</text>
<line x1="251.1" y1="426.5" x2="436.3" y2="426.5" stroke="#686868" stroke-width="1"/>
<line x1="249.1" y1="426.5" x2="251.1" y2="426.5" stroke="#444" stroke-width="0.9"/>
<text transform="translate(248.4 428.6) scale(0.95 1)" font-size="4.7" text-anchor="end" fill="#2a2a2a">0.000</text>
<rect x="254.4" y="425.6" width="4.4" height="0.6" fill="#E3141E"/>
<rect x="271.74" y="425.5" width="4.4" height="0.7" fill="#E3141E"/>
<rect x="300.64" y="398.1" width="4.4" height="28.1" fill="#E3141E"/>
<rect x="306.42" y="424" width="4.4" height="2.2" fill="#E3141E"/>
<rect x="312.2" y="339.6" width="4.4" height="86.6" fill="#E3141E"/>
<rect x="317.98" y="425.2" width="4.4" height="1" fill="#E3141E"/>
<rect x="323.76" y="425.2" width="4.4" height="1" fill="#E3141E"/>
<rect x="329.54" y="376.4" width="4.4" height="49.8" fill="#E3141E"/>
<rect x="335.32" y="417" width="4.4" height="9.2" fill="#E3141E"/>
<rect x="341.1" y="405.4" width="4.4" height="20.8" fill="#E3141E"/>
<rect x="353" y="389.1" width="4.4" height="37.1" fill="#E3141E"/>
<rect x="358.78" y="390.5" width="4.4" height="35.7" fill="#E3141E"/>
<rect x="364.56" y="404.6" width="4.4" height="21.6" fill="#E3141E"/>
<rect x="370.34" y="387.2" width="4.4" height="39" fill="#E3141E"/>
<rect x="376.12" y="388.6" width="4.4" height="37.6" fill="#E3141E"/>
<rect x="381.9" y="377.5" width="4.4" height="48.7" fill="#E3141E"/>
<rect x="387.68" y="378.3" width="4.4" height="47.9" fill="#E3141E"/>
<rect x="393.46" y="394" width="4.4" height="32.2" fill="#E3141E"/>
<rect x="399.24" y="396.7" width="4.4" height="29.5" fill="#E3141E"/>
<rect x="405.02" y="379.1" width="4.4" height="47.1" fill="#E3141E"/>
<rect x="410.8" y="375.6" width="4.4" height="50.6" fill="#E3141E"/>
<rect x="416.58" y="375.6" width="4.4" height="50.6" fill="#E3141E"/>
<rect x="422.36" y="311.5" width="4.4" height="114.7" fill="#E3141E"/>
<rect x="428.14" y="398.1" width="4.4" height="28.1" fill="#E3141E"/>
<line x1="256.5" y1="413.2" x2="343.8" y2="413.2" stroke="#333" stroke-width="0.9"/>
<line x1="355.2" y1="381.6" x2="430.9" y2="381.6" stroke="#999" stroke-width="0.9"/>
<line x1="256.5" y1="424.8" x2="343.8" y2="424.8" stroke="#777" stroke-width="0.9" stroke-dasharray="1.6 1.2"/>
<line x1="355.2" y1="387.8" x2="430.9" y2="387.8" stroke="#444" stroke-width="0.9" stroke-dasharray="1.6 1.2"/>
<rect x="251.1" y="311.2" width="185.2" height="115" fill="none" stroke="#555" stroke-width="0.9"/>
<line x1="349.1" y1="311.2" x2="349.1" y2="426.2" stroke="#000" stroke-width="2.4"/>
<line x1="302.5" y1="426.2" x2="302.5" y2="427.8" stroke="#555" stroke-width="0.7"/>
<line x1="394.4" y1="426.2" x2="394.4" y2="427.8" stroke="#555" stroke-width="0.7"/>
<rect x="290.9" y="313.9" width="31.9" height="9" rx="1.6" fill="#CCC600" stroke="#1e1e10" stroke-width="0.8"/>
<text x="306.85" y="320.3" font-size="6.4" text-anchor="middle" fill="#111" textLength="28.9" lengthAdjust="spacingAndGlyphs">class: d+7</text>
<rect x="383.6" y="313.4" width="32.4" height="9.5" rx="1.6" fill="#CCC600" stroke="#1e1e10" stroke-width="0.8"/>
<text x="399.8" y="320.3" font-size="6.4" text-anchor="middle" fill="#111" textLength="29.4" lengthAdjust="spacingAndGlyphs">class: CTRL</text>
<text x="343.5" y="308.3" font-size="8.5" text-anchor="middle" fill="#111" stroke="#111" stroke-width="0.12" textLength="46" lengthAdjust="spacingAndGlyphs">Clostridiaceae</text>
<text transform="translate(224.4 301.2) scale(0.97 1)" font-size="14.2" fill="#111">B</text>
<text transform="translate(234.5 369) rotate(-90)" font-size="5.7" font-weight="bold" text-anchor="middle" fill="#262626" textLength="54.3" lengthAdjust="spacingAndGlyphs">Relative abundance</text>
<line x1="471.6" y1="324.5" x2="660" y2="324.5" stroke="#686868" stroke-width="1"/>
<line x1="469.6" y1="324.5" x2="471.6" y2="324.5" stroke="#444" stroke-width="0.9"/>
<text transform="translate(467.6 327.2) scale(0.95 1)" font-size="4.7" text-anchor="end" fill="#2a2a2a">0.4</text>
<line x1="471.6" y1="350.5" x2="660" y2="350.5" stroke="#686868" stroke-width="1"/>
<line x1="469.6" y1="350.5" x2="471.6" y2="350.5" stroke="#444" stroke-width="0.9"/>
<text transform="translate(467.6 352.9) scale(0.95 1)" font-size="4.7" text-anchor="end" fill="#2a2a2a">0.3</text>
<line x1="471.6" y1="376.5" x2="660" y2="376.5" stroke="#686868" stroke-width="1"/>
<line x1="469.6" y1="376.5" x2="471.6" y2="376.5" stroke="#444" stroke-width="0.9"/>
<text transform="translate(467.6 378.7) scale(0.95 1)" font-size="4.7" text-anchor="end" fill="#2a2a2a">0.2</text>
<line x1="471.6" y1="402.5" x2="660" y2="402.5" stroke="#686868" stroke-width="1"/>
<line x1="469.6" y1="402.5" x2="471.6" y2="402.5" stroke="#444" stroke-width="0.9"/>
<text transform="translate(467.6 404.4) scale(0.95 1)" font-size="4.7" text-anchor="end" fill="#2a2a2a">0.1</text>
<line x1="471.6" y1="427.5" x2="660" y2="427.5" stroke="#686868" stroke-width="1"/>
<line x1="469.6" y1="427.5" x2="471.6" y2="427.5" stroke="#444" stroke-width="0.9"/>
<text transform="translate(467.6 429.9) scale(0.95 1)" font-size="4.7" text-anchor="end" fill="#2a2a2a">0.0</text>
<rect x="512.8" y="426.2" width="4.9" height="1.3" fill="#E3141E"/>
<rect x="519.1" y="423" width="4.9" height="4.5" fill="#E3141E"/>
<rect x="525.4" y="426.2" width="4.9" height="1.3" fill="#E3141E"/>
<rect x="550.6" y="341.8" width="4.9" height="85.7" fill="#E3141E"/>
<rect x="569.1" y="380.2" width="4.9" height="47.3" fill="#E3141E"/>
<rect x="575.4" y="387.8" width="4.9" height="39.7" fill="#E3141E"/>
<rect x="581.7" y="367" width="4.9" height="60.5" fill="#E3141E"/>
<rect x="588" y="361.5" width="4.9" height="66" fill="#E3141E"/>
<rect x="594.3" y="372.9" width="4.9" height="54.6" fill="#E3141E"/>
<rect x="600.6" y="311.5" width="4.9" height="116" fill="#E3141E"/>
<rect x="606.9" y="365.6" width="4.9" height="61.9" fill="#E3141E"/>
<rect x="613.2" y="381" width="4.9" height="46.5" fill="#E3141E"/>
<rect x="619.5" y="392.1" width="4.9" height="35.4" fill="#E3141E"/>
<rect x="625.8" y="350.5" width="4.9" height="77" fill="#E3141E"/>
<rect x="632.1" y="397.3" width="4.9" height="30.2" fill="#E3141E"/>
<rect x="638.4" y="362.1" width="4.9" height="65.4" fill="#E3141E"/>
<rect x="644.7" y="400.8" width="4.9" height="26.7" fill="#E3141E"/>
<rect x="651" y="407.5" width="4.9" height="20" fill="#E3141E"/>
<line x1="477.6" y1="421.1" x2="559.5" y2="421.1" stroke="#333" stroke-width="0.9"/>
<line x1="571.8" y1="374.3" x2="653.7" y2="374.3" stroke="#333" stroke-width="0.9"/>
<line x1="571.8" y1="376.6" x2="653.7" y2="376.6" stroke="#555" stroke-width="0.9" stroke-dasharray="1.6 1.2"/>
<rect x="471.6" y="311.2" width="188.4" height="116.3" fill="none" stroke="#555" stroke-width="0.9"/>
<line x1="565.6" y1="311.2" x2="565.6" y2="427.5" stroke="#000" stroke-width="2.4"/>
<line x1="521.7" y1="427.5" x2="521.7" y2="429.1" stroke="#555" stroke-width="0.7"/>
<line x1="615" y1="427.5" x2="615" y2="429.1" stroke="#555" stroke-width="0.7"/>
<rect x="510" y="314.2" width="32.5" height="8.7" rx="1.6" fill="#CCC600" stroke="#1e1e10" stroke-width="0.8"/>
<text x="526.25" y="320.3" font-size="6.4" text-anchor="middle" fill="#111" textLength="29.5" lengthAdjust="spacingAndGlyphs">class:d+28</text>
<rect x="603.1" y="313.4" width="35.2" height="9.5" rx="1.6" fill="#CCC600" stroke="#1e1e10" stroke-width="0.8"/>
<text x="620.7" y="320.3" font-size="6.4" text-anchor="middle" fill="#111" textLength="32.2" lengthAdjust="spacingAndGlyphs">class:CTRL</text>
<text x="565.65" y="308.3" font-size="8.5" text-anchor="middle" fill="#111" stroke="#111" stroke-width="0.12" textLength="57.1" lengthAdjust="spacingAndGlyphs">Lachnospiraceae</text>
<text transform="translate(460.8 301) scale(0.88 1)" font-size="14.6" fill="#111">C</text>
<text transform="translate(460.2 369.7) rotate(-90)" font-size="5.7" font-weight="bold" text-anchor="middle" fill="#262626" textLength="54.3" lengthAdjust="spacingAndGlyphs">Relative abundance</text>
<line x1="27.5" y1="477.5" x2="214.1" y2="477.5" stroke="#686868" stroke-width="1"/>
<line x1="25.5" y1="477.5" x2="27.5" y2="477.5" stroke="#444" stroke-width="0.9"/>
<text transform="translate(24.2 480.3) scale(0.95 1)" font-size="4.7" text-anchor="end" fill="#2a2a2a">0.8</text>
<line x1="27.5" y1="500.5" x2="214.1" y2="500.5" stroke="#686868" stroke-width="1"/>
<line x1="25.5" y1="500.5" x2="27.5" y2="500.5" stroke="#444" stroke-width="0.9"/>
<text transform="translate(24.2 503.4) scale(0.95 1)" font-size="4.7" text-anchor="end" fill="#2a2a2a">0.6</text>
<line x1="27.5" y1="524.5" x2="214.1" y2="524.5" stroke="#686868" stroke-width="1"/>
<line x1="25.5" y1="524.5" x2="27.5" y2="524.5" stroke="#444" stroke-width="0.9"/>
<text transform="translate(24.2 526.5) scale(0.95 1)" font-size="4.7" text-anchor="end" fill="#2a2a2a">0.4</text>
<line x1="27.5" y1="547.5" x2="214.1" y2="547.5" stroke="#686868" stroke-width="1"/>
<line x1="25.5" y1="547.5" x2="27.5" y2="547.5" stroke="#444" stroke-width="0.9"/>
<text transform="translate(24.2 549.6) scale(0.95 1)" font-size="4.7" text-anchor="end" fill="#2a2a2a">0.2</text>
<line x1="27.5" y1="570.5" x2="214.1" y2="570.5" stroke="#686868" stroke-width="1"/>
<line x1="25.5" y1="570.5" x2="27.5" y2="570.5" stroke="#444" stroke-width="0.9"/>
<text transform="translate(24.2 572.7) scale(0.95 1)" font-size="4.7" text-anchor="end" fill="#2a2a2a">0.0</text>
<rect x="30.7" y="466.2" width="4.4" height="104.1" fill="#E3141E"/>
<rect x="36.5" y="569" width="4.4" height="1.3" fill="#E3141E"/>
<rect x="42.3" y="455" width="4.4" height="115.3" fill="#E3141E"/>
<rect x="53.9" y="457" width="4.4" height="113.3" fill="#E3141E"/>
<rect x="59.7" y="455" width="4.4" height="115.3" fill="#E3141E"/>
<rect x="65.5" y="455" width="4.4" height="115.3" fill="#E3141E"/>
<rect x="71.3" y="455" width="4.4" height="115.3" fill="#E3141E"/>
<rect x="77.1" y="544.1" width="4.4" height="26.2" fill="#E3141E"/>
<rect x="82.9" y="569.2" width="4.4" height="1.1" fill="#E3141E"/>
<rect x="88.7" y="569" width="4.4" height="1.3" fill="#E3141E"/>
<rect x="94.5" y="455" width="4.4" height="115.3" fill="#E3141E"/>
<rect x="100.3" y="569.2" width="4.4" height="1.1" fill="#E3141E"/>
<rect x="111.9" y="567.3" width="4.4" height="3" fill="#E3141E"/>
<rect x="117.7" y="562.3" width="4.4" height="8" fill="#E3141E"/>
<line x1="33.2" y1="518.6" x2="120.5" y2="518.6" stroke="#888" stroke-width="0.9"/>
<line x1="33.2" y1="552.8" x2="120.5" y2="552.8" stroke="#555" stroke-width="0.9" stroke-dasharray="1.6 1.2"/>
<rect x="27.5" y="455" width="186.6" height="115.3" fill="none" stroke="#555" stroke-width="0.9"/>
<line x1="126.2" y1="455" x2="126.2" y2="570.3" stroke="#000" stroke-width="2.4"/>
<line x1="79.4" y1="570.3" x2="79.4" y2="571.9" stroke="#555" stroke-width="0.7"/>
<line x1="172.4" y1="570.3" x2="172.4" y2="571.9" stroke="#555" stroke-width="0.7"/>
<rect x="66.9" y="457" width="33.4" height="9.9" rx="1.6" fill="#CCC600" stroke="#1e1e10" stroke-width="0.8"/>
<text x="83.6" y="464.3" font-size="6.4" text-anchor="middle" fill="#111" textLength="30.4" lengthAdjust="spacingAndGlyphs">class: d+7</text>
<rect x="160.4" y="457" width="33.2" height="9.9" rx="1.6" fill="#CCC600" stroke="#1e1e10" stroke-width="0.8"/>
<text x="177" y="464.3" font-size="6.4" text-anchor="middle" fill="#111" textLength="30.2" lengthAdjust="spacingAndGlyphs">class:CTRL</text>
<text x="120.75" y="451.5" font-size="8.5" text-anchor="middle" fill="#111" stroke="#111" stroke-width="0.12" textLength="55.9" lengthAdjust="spacingAndGlyphs">Enterococcaceae</text>
<text transform="translate(7.4 452.5) scale(0.92 1)" font-size="16.8" fill="#111">D</text>
<text transform="translate(15.5 512.8) rotate(-90)" font-size="5.7" font-weight="bold" text-anchor="middle" fill="#262626" textLength="54.3" lengthAdjust="spacingAndGlyphs">Relative abundance</text>
<line x1="243.7" y1="470.5" x2="430.6" y2="470.5" stroke="#686868" stroke-width="1"/>
<line x1="241.7" y1="470.5" x2="243.7" y2="470.5" stroke="#444" stroke-width="0.9"/>
<text transform="translate(240 472.8) scale(0.95 1)" font-size="4.7" text-anchor="end" fill="#2a2a2a">0.12</text>
<line x1="243.7" y1="486.5" x2="430.6" y2="486.5" stroke="#686868" stroke-width="1"/>
<line x1="241.7" y1="486.5" x2="243.7" y2="486.5" stroke="#444" stroke-width="0.9"/>
<text transform="translate(240 489.4) scale(0.95 1)" font-size="4.7" text-anchor="end" fill="#2a2a2a">0.10</text>
<line x1="243.7" y1="503.5" x2="430.6" y2="503.5" stroke="#686868" stroke-width="1"/>
<line x1="241.7" y1="503.5" x2="243.7" y2="503.5" stroke="#444" stroke-width="0.9"/>
<text transform="translate(240 506) scale(0.95 1)" font-size="4.7" text-anchor="end" fill="#2a2a2a">0.08</text>
<line x1="243.7" y1="520.5" x2="430.6" y2="520.5" stroke="#686868" stroke-width="1"/>
<line x1="241.7" y1="520.5" x2="243.7" y2="520.5" stroke="#444" stroke-width="0.9"/>
<text transform="translate(240 522.6) scale(0.95 1)" font-size="4.7" text-anchor="end" fill="#2a2a2a">0.06</text>
<line x1="243.7" y1="536.5" x2="430.6" y2="536.5" stroke="#686868" stroke-width="1"/>
<line x1="241.7" y1="536.5" x2="243.7" y2="536.5" stroke="#444" stroke-width="0.9"/>
<text transform="translate(240 539.2) scale(0.95 1)" font-size="4.7" text-anchor="end" fill="#2a2a2a">0.04</text>
<line x1="243.7" y1="553.5" x2="430.6" y2="553.5" stroke="#686868" stroke-width="1"/>
<line x1="241.7" y1="553.5" x2="243.7" y2="553.5" stroke="#444" stroke-width="0.9"/>
<text transform="translate(240 555.7) scale(0.95 1)" font-size="4.7" text-anchor="end" fill="#2a2a2a">0.02</text>
<line x1="243.7" y1="569.5" x2="430.6" y2="569.5" stroke="#686868" stroke-width="1"/>
<line x1="241.7" y1="569.5" x2="243.7" y2="569.5" stroke="#444" stroke-width="0.9"/>
<text transform="translate(240 572.2) scale(0.95 1)" font-size="4.7" text-anchor="end" fill="#2a2a2a">0.00</text>
<rect x="264.46" y="454.5" width="4.5" height="115.3" fill="#E3141E"/>
<rect x="299.38" y="564.3" width="4.5" height="5.5" fill="#E3141E"/>
<rect x="305.2" y="569" width="4.5" height="0.8" fill="#E3141E"/>
<rect x="316.84" y="561.8" width="4.5" height="8" fill="#E3141E"/>
<rect x="334.3" y="551.5" width="4.5" height="18.3" fill="#E3141E"/>
<line x1="249.2" y1="531.3" x2="337.3" y2="531.3" stroke="#333" stroke-width="0.9"/>
<line x1="249.2" y1="569.1" x2="337.3" y2="569.1" stroke="#666" stroke-width="0.9" stroke-dasharray="1.6 1.2"/>
<line x1="348.2" y1="569.3" x2="424.8" y2="569.3" stroke="#888" stroke-width="0.9"/>
<rect x="243.7" y="454.5" width="186.9" height="115.3" fill="none" stroke="#555" stroke-width="0.9"/>
<line x1="342.7" y1="454.5" x2="342.7" y2="569.8" stroke="#000" stroke-width="2.4"/>
<line x1="296.1" y1="569.8" x2="296.1" y2="571.4" stroke="#555" stroke-width="0.7"/>
<line x1="389.4" y1="569.8" x2="389.4" y2="571.4" stroke="#555" stroke-width="0.7"/>
<rect x="283.6" y="456.7" width="31.7" height="9.5" rx="1.6" fill="#CCC600" stroke="#1e1e10" stroke-width="0.8"/>
<text x="299.45" y="463.6" font-size="6.4" text-anchor="middle" fill="#111" textLength="28.7" lengthAdjust="spacingAndGlyphs">class: d+7</text>
<rect x="377.4" y="457" width="34.4" height="9.7" rx="1.6" fill="#CCC600" stroke="#1e1e10" stroke-width="0.8"/>
<text x="394.6" y="464.1" font-size="6.4" text-anchor="middle" fill="#111" textLength="31.4" lengthAdjust="spacingAndGlyphs">class: CTRL</text>
<text x="336.8" y="451.5" font-size="8.5" text-anchor="middle" fill="#111" stroke="#111" stroke-width="0.12" textLength="63.8" lengthAdjust="spacingAndGlyphs">Staphylococcaceae</text>
<text transform="translate(221.3 448) scale(0.71 1)" font-size="16.5" fill="#111">E</text>
<text transform="translate(229.4 512.3) rotate(-90)" font-size="5.7" font-weight="bold" text-anchor="middle" fill="#262626" textLength="54.3" lengthAdjust="spacingAndGlyphs">Relative abundance</text>
<line x1="471.4" y1="468.5" x2="659.8" y2="468.5" stroke="#686868" stroke-width="1"/>
<line x1="469.4" y1="468.5" x2="471.4" y2="468.5" stroke="#444" stroke-width="0.9"/>
<text transform="translate(468 470.6) scale(0.95 1)" font-size="4.7" text-anchor="end" fill="#2a2a2a">0.04</text>
<line x1="471.4" y1="493.5" x2="659.8" y2="493.5" stroke="#686868" stroke-width="1"/>
<line x1="469.4" y1="493.5" x2="471.4" y2="493.5" stroke="#444" stroke-width="0.9"/>
<text transform="translate(468 496) scale(0.95 1)" font-size="4.7" text-anchor="end" fill="#2a2a2a">0.03</text>
<line x1="471.4" y1="518.5" x2="659.8" y2="518.5" stroke="#686868" stroke-width="1"/>
<line x1="469.4" y1="518.5" x2="471.4" y2="518.5" stroke="#444" stroke-width="0.9"/>
<text transform="translate(468 521.4) scale(0.95 1)" font-size="4.7" text-anchor="end" fill="#2a2a2a">0.02</text>
<line x1="471.4" y1="544.5" x2="659.8" y2="544.5" stroke="#686868" stroke-width="1"/>
<line x1="469.4" y1="544.5" x2="471.4" y2="544.5" stroke="#444" stroke-width="0.9"/>
<text transform="translate(468 546.8) scale(0.95 1)" font-size="4.7" text-anchor="end" fill="#2a2a2a">0.01</text>
<line x1="471.4" y1="569.5" x2="659.8" y2="569.5" stroke="#686868" stroke-width="1"/>
<line x1="469.4" y1="569.5" x2="471.4" y2="569.5" stroke="#444" stroke-width="0.9"/>
<text transform="translate(468 572.2) scale(0.95 1)" font-size="4.7" text-anchor="end" fill="#2a2a2a">0.00</text>
<rect x="474.9" y="532.8" width="4.5" height="37" fill="#E3141E"/>
<rect x="480.6" y="541.1" width="4.5" height="28.7" fill="#E3141E"/>
<rect x="486.3" y="546" width="4.5" height="23.8" fill="#E3141E"/>
<rect x="492" y="554.8" width="4.5" height="15" fill="#E3141E"/>
<rect x="497.7" y="554.8" width="4.5" height="15" fill="#E3141E"/>
<rect x="503.4" y="566.8" width="4.5" height="3" fill="#E3141E"/>
<rect x="509.1" y="561.8" width="4.5" height="8" fill="#E3141E"/>
<rect x="514.8" y="554.8" width="4.5" height="15" fill="#E3141E"/>
<rect x="520.5" y="537.8" width="4.5" height="32" fill="#E3141E"/>
<rect x="526.2" y="562.8" width="4.5" height="7" fill="#E3141E"/>
<rect x="531.9" y="564.8" width="4.5" height="5" fill="#E3141E"/>
<rect x="537.6" y="519.1" width="4.5" height="50.7" fill="#E3141E"/>
<rect x="543.3" y="561.8" width="4.5" height="8" fill="#E3141E"/>
<rect x="549" y="550.3" width="4.5" height="19.5" fill="#E3141E"/>
<rect x="554.7" y="559.8" width="4.5" height="10" fill="#E3141E"/>
<rect x="560.4" y="529.8" width="4.5" height="40" fill="#E3141E"/>
<rect x="566.1" y="453.7" width="4.5" height="116.1" fill="#E3141E"/>
<rect x="578.2" y="564.3" width="4.5" height="5.5" fill="#E3141E"/>
<rect x="583.85" y="566" width="4.5" height="3.8" fill="#E3141E"/>
<rect x="589.5" y="559.8" width="4.5" height="10" fill="#E3141E"/>
<rect x="595.15" y="561.8" width="4.5" height="8" fill="#E3141E"/>
<rect x="600.8" y="533.6" width="4.5" height="36.2" fill="#E3141E"/>
<rect x="606.45" y="561.8" width="4.5" height="8" fill="#E3141E"/>
<rect x="612.1" y="562.8" width="4.5" height="7" fill="#E3141E"/>
<rect x="617.75" y="564.8" width="4.5" height="5" fill="#E3141E"/>
<rect x="623.4" y="561" width="4.5" height="8.8" fill="#E3141E"/>
<rect x="629.05" y="561.8" width="4.5" height="8" fill="#E3141E"/>
<rect x="634.7" y="559.8" width="4.5" height="10" fill="#E3141E"/>
<rect x="640.35" y="551.8" width="4.5" height="18" fill="#E3141E"/>
<rect x="646" y="564.8" width="4.5" height="5" fill="#E3141E"/>
<rect x="651.65" y="564" width="4.5" height="5.8" fill="#E3141E"/>
<line x1="476.9" y1="531.3" x2="568.7" y2="531.3" stroke="#333" stroke-width="0.9"/>
<line x1="476.9" y1="554.8" x2="568.7" y2="554.8" stroke="#777" stroke-width="0.9" stroke-dasharray="1.6 1.2"/>
<line x1="579.9" y1="559.3" x2="654.3" y2="559.3" stroke="#333" stroke-width="0.9"/>
<line x1="579.9" y1="561" x2="654.3" y2="561" stroke="#666" stroke-width="0.9" stroke-dasharray="1.6 1.2"/>
<rect x="471.4" y="453.7" width="188.4" height="116.1" fill="none" stroke="#555" stroke-width="0.9"/>
<line x1="574.2" y1="453.7" x2="574.2" y2="569.8" stroke="#000" stroke-width="2.4"/>
<line x1="525.5" y1="569.8" x2="525.5" y2="571.4" stroke="#555" stroke-width="0.7"/>
<line x1="618" y1="569.8" x2="618" y2="571.4" stroke="#555" stroke-width="0.7"/>
<rect x="513.1" y="455.5" width="32.2" height="9.9" rx="1.6" fill="#CCC600" stroke="#1e1e10" stroke-width="0.8"/>
<text x="529.2" y="462.8" font-size="6.4" text-anchor="middle" fill="#111" textLength="29.2" lengthAdjust="spacingAndGlyphs">class: d-7</text>
<rect x="607.4" y="455.5" width="33.7" height="9.9" rx="1.6" fill="#CCC600" stroke="#1e1e10" stroke-width="0.8"/>
<text x="624.25" y="462.8" font-size="6.4" text-anchor="middle" fill="#111" textLength="30.7" lengthAdjust="spacingAndGlyphs">class:CTRL</text>
<text x="566.15" y="450.2" font-size="8.5" text-anchor="middle" fill="#111" stroke="#111" stroke-width="0.12" textLength="60.1" lengthAdjust="spacingAndGlyphs">Streptococcaceae</text>
<text transform="translate(460.9 446.2) scale(0.73 1)" font-size="15.6" fill="#111">F</text>
<text transform="translate(457.4 512) rotate(-90)" font-size="5.7" font-weight="bold" text-anchor="middle" fill="#262626" textLength="54.3" lengthAdjust="spacingAndGlyphs">Relative abundance</text>
</svg>
</body></html>
